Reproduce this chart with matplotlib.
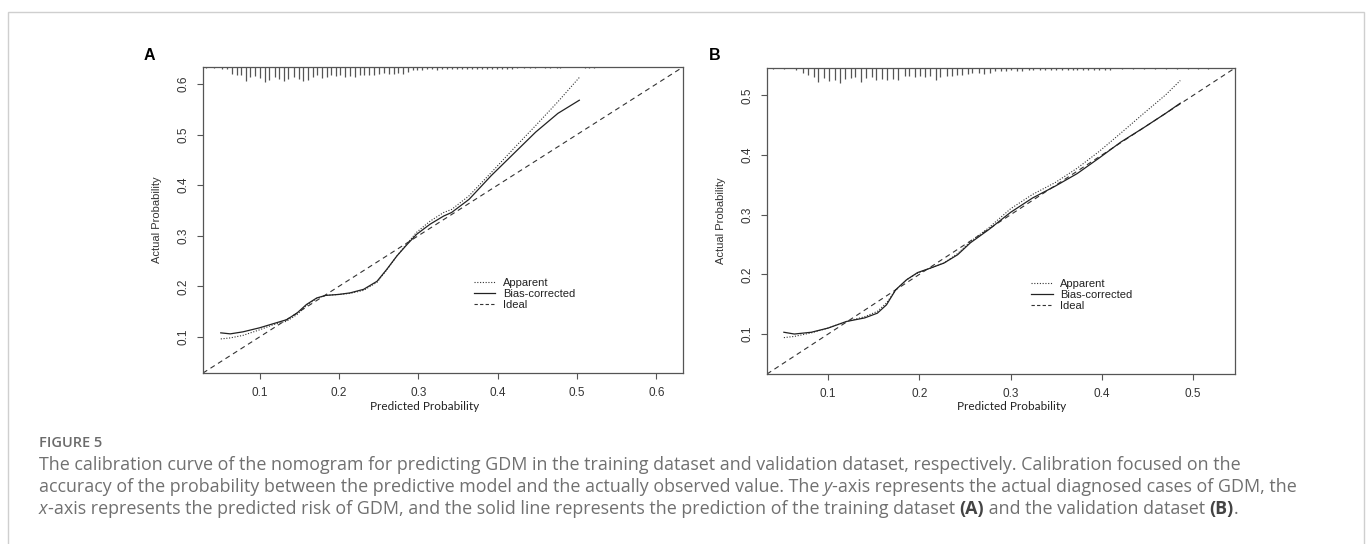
import matplotlib
matplotlib.use("Agg")
import matplotlib.pyplot as plt
import numpy as np
from matplotlib.patches import Rectangle
from matplotlib.lines import Line2D

plt.rcParams["font.family"] = ["Liberation Sans", "DejaVu Sans"]

# ---- panel A (training) ----
a_pred = [0.051, 0.063, 0.079, 0.100, 0.117, 0.134, 0.147, 0.159, 0.172, 0.183, 0.200, 0.214, 0.231,
          0.248, 0.260, 0.273, 0.286, 0.298, 0.315, 0.332, 0.342, 0.364, 0.392, 0.420, 0.448, 0.476, 0.503]
a_apparent = [0.096, 0.098, 0.103, 0.114, 0.124, 0.131, 0.144, 0.162, 0.176, 0.182, 0.184, 0.186, 0.192,
              0.208, 0.232, 0.260, 0.285, 0.307, 0.329, 0.346, 0.352, 0.379, 0.425, 0.472, 0.518, 0.565, 0.613]
a_bias = [0.108, 0.106, 0.110, 0.118, 0.126, 0.134, 0.147, 0.164, 0.177, 0.182, 0.184, 0.187, 0.194,
          0.210, 0.233, 0.260, 0.283, 0.303, 0.323, 0.339, 0.346, 0.372, 0.419, 0.462, 0.505, 0.542, 0.568]
a_lim = [0.0286, 0.6337]
a_ticks = [0.1, 0.2, 0.3, 0.4, 0.5, 0.6]
rug_a_x = [0.033, 0.042, 0.052, 0.059, 0.065, 0.071, 0.077, 0.083, 0.088, 0.094, 0.101, 0.107, 0.112,
           0.119, 0.125, 0.131, 0.136, 0.143, 0.149, 0.155, 0.161, 0.167, 0.172, 0.178, 0.185, 0.190,
           0.196, 0.201, 0.208, 0.214, 0.220, 0.227, 0.232, 0.238, 0.244, 0.251, 0.257, 0.263, 0.269,
           0.275, 0.281, 0.287, 0.293, 0.299, 0.305, 0.311, 0.317, 0.323, 0.330, 0.336, 0.342, 0.349,
           0.355, 0.361, 0.368, 0.374, 0.380, 0.386, 0.393, 0.399, 0.405, 0.412, 0.418, 0.424, 0.433,
           0.441, 0.447, 0.460, 0.466, 0.475, 0.479, 0.510, 0.515, 0.521]
rug_a_n = [3, 3, 5, 7, 20, 23, 25, 43, 30, 27, 33, 45, 40, 30, 35, 43, 37, 30, 35, 43, 40, 30, 25, 33,
           30, 25, 27, 23, 30, 27, 30, 25, 23, 25, 23, 20, 17, 20, 20, 17, 20, 15, 10, 8, 8, 7, 5, 8,
           5, 5, 5, 5, 5, 5, 5, 5, 5, 5, 5, 5, 5, 5, 7, 3, 3, 3, 3, 3, 3, 3, 3, 3, 3, 3]

# ---- panel B (validation) ----
b_pred = [0.0515, 0.063, 0.0816, 0.100, 0.120, 0.140, 0.154, 0.164, 0.174, 0.186, 0.198, 0.213, 0.227,
          0.242, 0.256, 0.276, 0.300, 0.324, 0.349, 0.373, 0.397, 0.421, 0.446, 0.470, 0.486]
b_apparent = [0.094, 0.096, 0.102, 0.110, 0.121, 0.129, 0.138, 0.152, 0.174, 0.191, 0.202, 0.211, 0.219,
              0.235, 0.255, 0.278, 0.310, 0.334, 0.354, 0.378, 0.406, 0.437, 0.470, 0.501, 0.525]
b_bias = [0.103, 0.100, 0.103, 0.110, 0.121, 0.127, 0.135, 0.149, 0.174, 0.191, 0.203, 0.211, 0.219,
          0.233, 0.253, 0.275, 0.304, 0.328, 0.348, 0.369, 0.395, 0.422, 0.446, 0.470, 0.487]
b_lim = [0.033, 0.546]
b_ticks = [0.1, 0.2, 0.3, 0.4, 0.5]
rug_b_x = [0.040, 0.052, 0.065, 0.072, 0.078, 0.084, 0.089, 0.095, 0.101, 0.107, 0.113, 0.119, 0.125,
           0.130, 0.136, 0.142, 0.148, 0.153, 0.159, 0.165, 0.171, 0.177, 0.184, 0.189, 0.195, 0.201,
           0.206, 0.212, 0.218, 0.223, 0.230, 0.236, 0.241, 0.247, 0.253, 0.258, 0.265, 0.271, 0.277,
           0.283, 0.289, 0.295, 0.301, 0.307, 0.313, 0.320, 0.325, 0.332, 0.338, 0.344, 0.350, 0.356,
           0.363, 0.368, 0.373, 0.379, 0.385, 0.391, 0.397, 0.403, 0.409, 0.422, 0.434, 0.446, 0.458,
           0.470, 0.482, 0.494, 0.505, 0.516]
rug_b_n = [3, 3, 5, 15, 20, 27, 43, 30, 40, 35, 45, 33, 30, 27, 43, 30, 27, 35, 33, 37, 33, 37, 23, 25,
           27, 25, 27, 23, 35, 27, 23, 25, 20, 20, 17, 15, 15, 17, 15, 10, 10, 10, 7, 10, 10, 7, 5, 7,
           5, 5, 5, 5, 7, 5, 5, 5, 5, 5, 5, 5, 5, 3, 3, 3, 3, 3, 3, 3, 3, 3]

legend_labels = ["Apparent", "Bias-corrected", "Ideal"]
caption_head = "FIGURE 5"
caption_lines = [
    [("The calibration curve of the nomogram for predicting GDM in the training dataset and validation "
      "dataset, respectively. Calibration focused on the", {})],
    [("accuracy of the probability between the predictive model and the actually observed value. The ", {}),
     ("y", {"style": "italic"}),
     ("-axis represents the actual diagnosed cases of GDM, the", {})],
    [("x", {"style": "italic"}),
     ("-axis represents the predicted risk of GDM, and the solid line represents the prediction of the "
      "training dataset ", {}),
     ("(A)", {"weight": "bold", "color": "#444444"}),
     (" and the validation dataset ", {}),
     ("(B)", {"weight": "bold", "color": "#444444"}),
     (".", {})],
]

W, H = 1372, 544
fig = plt.figure(figsize=(W / 100, H / 100), dpi=100)
fig.patches.append(Rectangle((8 / W, -0.05), (1364 - 8) / W, 1.05 - 12 / H, transform=fig.transFigure,
                             fill=False, edgecolor="#cfcfcf", lw=1.0))

INK = "#333333"


def panel(rect, pred, apparent, bias, lim, ticks, rug_x, rug_n, letter, letter_x, xlabel_x):
    wpx = rect[2] - rect[0]
    hpx = rect[3] - rect[1]
    ax = fig.add_axes([rect[0] / W, 1 - rect[3] / H, wpx / W, hpx / H])
    ax.plot(lim, lim, color=INK, lw=0.8, dashes=(4.5, 3.5))
    ax.plot(pred, apparent, color=INK, lw=0.8, dashes=(1, 1.5))
    ax.plot(pred, bias, color="#222222", lw=0.9)
    n = np.array(rug_n) / 3.0 / hpx
    ax.vlines(rug_x, 1 - n, 1, transform=ax.get_xaxis_transform(), color="#555555", lw=0.9)
    ax.set_xlim(lim)
    ax.set_ylim(lim)
    ax.set_xticks(ticks)
    ax.set_yticks(ticks)
    ax.set_xticklabels([f"{t:.1f}" for t in ticks])
    ax.set_yticklabels([f"{t:.1f}" for t in ticks], rotation=90, va="center")
    ax.tick_params(direction="out", length=4.3, width=0.8, color="#555555", labelsize=8.5,
                   labelcolor="#333333", pad=5.5)
    for s in ax.spines.values():
        s.set_color("#555555")
        s.set_linewidth(0.9)
    handles = [Line2D([], [], color=INK, lw=0.8, dashes=(1, 1.5)),
               Line2D([], [], color="#222222", lw=0.9),
               Line2D([], [], color=INK, lw=0.8, dashes=(3, 2))]
    ax.legend(handles, legend_labels, loc="upper left", bbox_to_anchor=(0.565, 0.31), frameon=False,
              fontsize=8, handlelength=1.9, handletextpad=0.7, labelspacing=0.1, borderpad=0,
              borderaxespad=0, labelcolor="#222222")
    ax.text(-45.5 / wpx, 0.5, "Actual Probability", transform=ax.transAxes,
            rotation=90, ha="center", va="center", fontsize=8, color="#333333")
    fig.text(letter_x / W, 1 - 55.5 / H, letter, ha="center", va="center", fontsize=11.5, weight="bold")
    fig.text(xlabel_x / W, 1 - 407 / H, "Predicted Probability", ha="center", va="center",
             fontsize=8.5, family="Lato", color="#222222")
    return ax


panel((203, 67, 683, 373), a_pred, a_apparent, a_bias, a_lim, a_ticks, rug_a_x, rug_a_n, "A", 149, 425)
panel((767, 68, 1235, 374), b_pred, b_apparent, b_bias, b_lim, b_ticks, rug_b_x, rug_b_n, "B", 715, 1012)

# caption
renderer = fig.canvas.get_renderer()
cap_kw = dict(fontsize=12.9, family="Open Sans", color="#707070", va="center", ha="left")


def text_width(s, style):
    kw = {**cap_kw, **style}
    t = fig.text(0, 0, "|" + s + "|", **kw)
    w = t.get_window_extent(renderer).width
    t.remove()
    t = fig.text(0, 0, "||", **kw)
    w -= t.get_window_extent(renderer).width
    t.remove()
    return w


fig.text(39 / W, 1 - 443 / H, caption_head, fontsize=10.5, family="Open Sans", weight="semibold",
         color="#6b6b6b", va="center", ha="left")
for i, parts in enumerate(caption_lines):
    x = 39.0
    y = 465 + 22 * i
    for s, style in parts:
        fig.text(x / W, 1 - y / H, s, **{**cap_kw, **style})
        x += text_width(s, style)

fig.savefig("out.png", dpi=100)
